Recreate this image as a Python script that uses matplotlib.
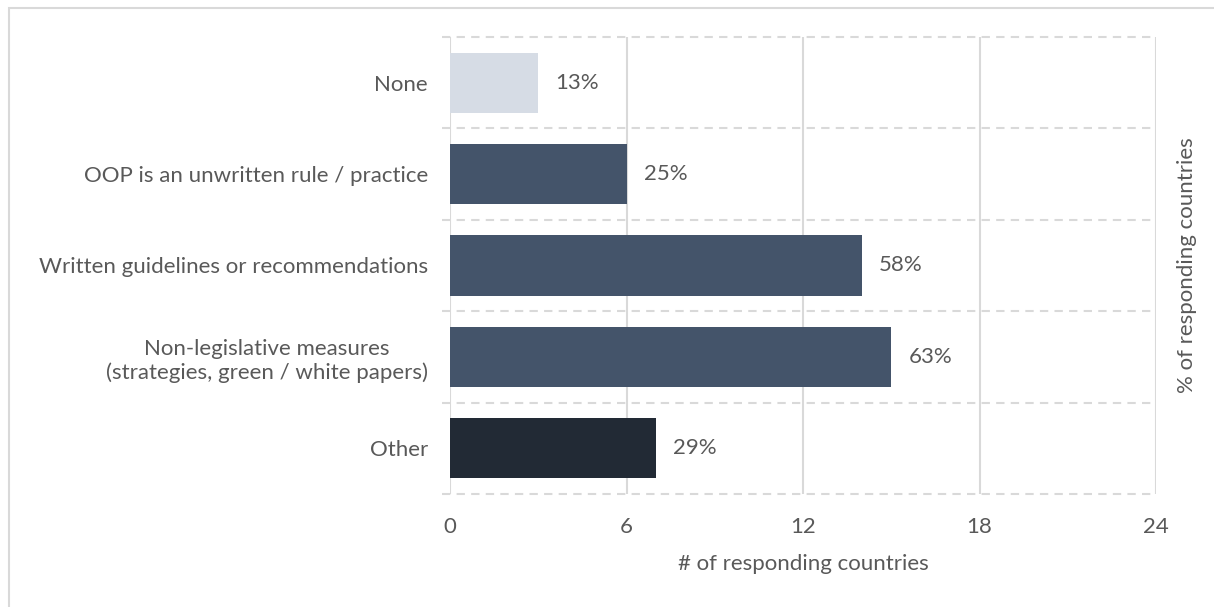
import matplotlib
matplotlib.use("Agg")
import matplotlib.pyplot as plt
from matplotlib.patches import Rectangle
from matplotlib.transforms import blended_transform_factory

plt.rcParams['font.family'] = ['Lato', 'DejaVu Sans']

categories = [
    "None",
    "OOP is an unwritten rule / practice",
    "Written guidelines or recommendations",
    "Non-legislative measures\n(strategies, green / white papers)",
    "Other",
]
counts = [3, 6, 14, 15, 7]
total_countries = 24
bar_colors = ["#D6DCE5", "#44546A", "#44546A", "#44546A", "#222A35"]
x_ticks = [0, 6, 12, 18, 24]

text_color = "#595959"
grid_color = "#D9D9D9"
fs = 16

fig = plt.figure(figsize=(12.14, 6.07), dpi=100)
ax = fig.add_axes([450 / 1214, 1 - 494 / 607, 706 / 1214, 457 / 607])

# light frame around the whole chart
fig.patches.append(Rectangle((9 / 1214, -0.05), 1.2, 1 - 8 / 607 + 0.05,
                             transform=fig.transFigure, fill=False,
                             edgecolor=grid_color, linewidth=1.5))

y = list(range(len(categories)))
ax.barh(y, counts, height=0.66, color=bar_colors, zorder=3)

for yi, c in zip(y, counts):
    pct = int(c * 100 / total_countries + 0.5)
    ax.text(c + 0.58, yi, f"{pct}%", va="center", ha="left",
            fontsize=fs, color=text_color)

ax.set_xlim(0, 24)
ax.set_ylim(len(categories) - 0.5, -0.5)
ax.set_xticks(x_ticks)
ax.set_yticks(y)
ax.set_yticklabels(categories, multialignment="center")
ax.tick_params(axis="both", length=0, labelsize=fs, colors=text_color)
ax.tick_params(axis="y", pad=16)
ax.tick_params(axis="x", pad=16.5)

for s in ax.spines.values():
    s.set_visible(False)

# vertical solid gridlines
for xv in x_ticks:
    ax.axvline(xv, color=grid_color, linewidth=1.5, zorder=1)

# dashed category separators, slightly protruding left of the axis
trans = blended_transform_factory(ax.transAxes, ax.transData)
for b in [i - 0.5 for i in range(len(categories) + 1)]:
    ax.plot([-0.011, 1.0], [b, b], transform=trans, color=grid_color,
            linewidth=1.5, linestyle=(0, (4, 3)), clip_on=False, zorder=1)

ax.set_xlabel("# of responding countries", fontsize=fs, color=text_color,
              labelpad=12.5)

ax.yaxis.set_label_position("right")
ax.set_ylabel("% of responding countries", fontsize=fs, color=text_color,
              labelpad=15)

fig.savefig("out.png", dpi=100, facecolor="white")
